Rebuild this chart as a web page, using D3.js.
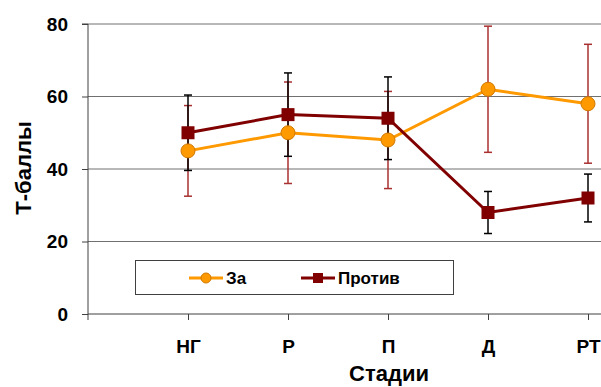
<!DOCTYPE html>
<html>
<head>
<meta charset="utf-8">
<script src="https://cdn.jsdelivr.net/npm/d3@7"></script>
<style>
  body { margin: 0; background: #fff; }
  text { font-family: Arial, "Liberation Sans", sans-serif; font-weight: bold; }
</style>
</head>
<body>
<div id="chart"></div>
<script>
// --- Data ---
const stages = ["НГ", "Р", "П", "Д", "РТ"];
const forValues = [45, 50, 48, 62, 58];
const forErrors = [12.5, 14, 13.4, 17.4, 16.4];
const againstValues = [50, 55, 54, 28, 32];
const againstErrors = [10.4, 11.5, 11.4, 5.8, 6.6];
const yTicks = [0, 20, 40, 60, 80];

const series = [
    { name: "За", values: forValues, errors: forErrors, color: "#FF9900", stroke: "#D07800", errColor: "#A83030", marker: "circle" },
    { name: "Против", values: againstValues, errors: againstErrors, color: "#800000", stroke: "#800000", errColor: "#000000", marker: "square" }
];

const W = 601, H = 387;
const plotLeft = 88, plotRight = 601, plotTop = 24, plotBottom = 314;

const svg = d3.select("#chart").append("svg")
    .attr("width", W)
    .attr("height", H);

// --- Scales ---
const x = d3.scalePoint()
    .domain(stages)
    .range([188, 588]);

const y = d3.scaleLinear()
    .domain([0, 80])
    .range([plotBottom, plotTop]);

// --- Grid lines ---
svg.append("g")
    .selectAll("line")
    .data(yTicks.filter(d => d > 0))
    .join("line")
    .attr("x1", plotLeft)
    .attr("x2", plotRight)
    .attr("y1", d => y(d))
    .attr("y2", d => y(d))
    .attr("stroke", "#707070")
    .attr("stroke-width", 1);

// --- Y axis ---
const yAxis = svg.append("g")
    .attr("transform", `translate(${plotLeft},0)`)
    .call(d3.axisLeft(y).tickValues(yTicks).tickSize(6).tickPadding(14));
yAxis.select(".domain").attr("stroke", "#404040").attr("d", `M-6,${plotTop}H0V${plotBottom}`);
yAxis.selectAll(".tick line").attr("stroke", "#404040");
yAxis.selectAll("text")
    .style("font-size", "19px")
    .style("font-family", "Arial, 'Liberation Sans', sans-serif")
    .style("font-weight", "bold")
    .attr("fill", "#000");

// --- X axis ---
const xAxis = svg.append("g")
    .attr("transform", `translate(0,${plotBottom})`)
    .call(d3.axisBottom(x).tickSize(6).tickPadding(20));
xAxis.select(".domain").attr("stroke", "#404040").attr("d", `M${plotLeft},6V0H${plotRight}`);
xAxis.selectAll(".tick line").attr("stroke", "#404040");
xAxis.selectAll("text")
    .style("font-size", "19px")
    .style("font-family", "Arial, 'Liberation Sans', sans-serif")
    .style("font-weight", "bold")
    .attr("fill", "#000");

// --- Axis titles ---
svg.append("text")
    .attr("transform", `translate(31,168) rotate(-90)`)
    .attr("text-anchor", "middle")
    .style("font-size", "22px")
    .text("Т-баллы");

svg.append("text")
    .attr("x", 389)
    .attr("y", 381)
    .attr("text-anchor", "middle")
    .style("font-size", "22px")
    .text("Стадии");

// --- Error bars ---
series.forEach(s => {
    const g = svg.append("g");
    const rows = stages.map((st, i) => ({ st, v: s.values[i], e: s.errors[i] }));
    g.selectAll("line.v")
        .data(rows)
        .join("line")
        .attr("x1", d => x(d.st))
        .attr("x2", d => x(d.st))
        .attr("y1", d => y(d.v + d.e))
        .attr("y2", d => y(d.v - d.e))
        .attr("stroke", s.errColor)
        .attr("stroke-width", 1.5);
    [1, -1].forEach(sign => {
        g.selectAll(null)
            .data(rows)
            .join("line")
            .attr("x1", d => x(d.st) - 4)
            .attr("x2", d => x(d.st) + 4)
            .attr("y1", d => y(d.v + sign * d.e))
            .attr("y2", d => y(d.v + sign * d.e))
            .attr("stroke", s.errColor)
            .attr("stroke-width", 1.5);
    });
});

// --- Lines and markers ---
const line = d3.line()
    .x(d => x(d.st))
    .y(d => y(d.v));

const drawMarker = (g, s, cx, cy, r) => {
    if (s.marker === "circle") {
        g.append("circle")
            .attr("cx", cx).attr("cy", cy).attr("r", r)
            .attr("fill", s.color).attr("stroke", s.stroke).attr("stroke-width", 1);
    } else {
        g.append("rect")
            .attr("x", cx - r).attr("y", cy - r)
            .attr("width", 2 * r).attr("height", 2 * r)
            .attr("fill", s.color);
    }
};

series.forEach(s => {
    const rows = stages.map((st, i) => ({ st, v: s.values[i] }));
    svg.append("path")
        .datum(rows)
        .attr("d", line)
        .attr("fill", "none")
        .attr("stroke", s.color)
        .attr("stroke-width", 3);
    const g = svg.append("g");
    rows.forEach(d => drawMarker(g, s, x(d.st), y(d.v), s.marker === "circle" ? 7 : 6.5));
});

// --- Legend ---
const legend = svg.append("g");
legend.append("rect")
    .attr("x", 135.5).attr("y", 260.5)
    .attr("width", 318).attr("height", 34)
    .attr("fill", "#fff")
    .attr("stroke", "#404040")
    .attr("stroke-width", 1);

const legendX = [189, 301];
series.forEach((s, i) => {
    const lx = legendX[i], ly = 278;
    legend.append("line")
        .attr("x1", lx).attr("x2", lx + 34)
        .attr("y1", ly).attr("y2", ly)
        .attr("stroke", s.color).attr("stroke-width", 3);
    drawMarker(legend, s, lx + 17, ly, 5);
    legend.append("text")
        .attr("x", lx + 37).attr("y", ly + 6)
        .style("font-size", "17px")
        .text(s.name);
});
</script>
</body>
</html>
